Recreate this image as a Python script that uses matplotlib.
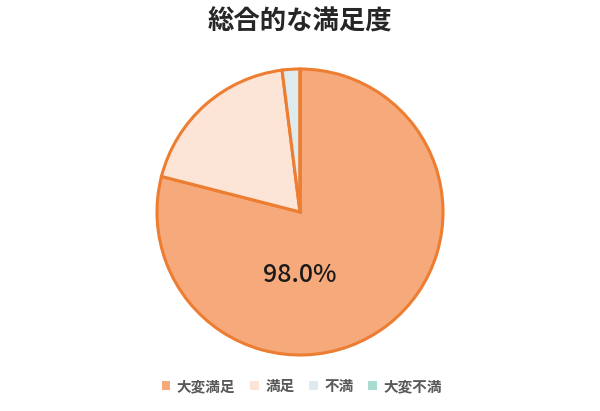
import matplotlib.pyplot as plt
from matplotlib.patches import Patch

plt.rcParams['font.family'] = ['Noto Sans CJK JP', 'DejaVu Sans']

labels = ['大変満足', '満足', '不満', '大変不満']
values = [79.0, 19.0, 2.0, 0.0]
colors = ['#F6AA7C', '#FCE4D6', '#DDEBEE', '#A9DCD0']
center_label = '98.0%'

fig = plt.figure(figsize=(6.0, 4.11), dpi=100)

# pie axes: centre at (300, 212) px from top, radius 143 px
W, H = 600, 411
ax = fig.add_axes([157 / W, 56 / H, 286 / W, 286 / H])
wedges, _ = ax.pie(values, colors=colors, startangle=90, counterclock=False,
                   radius=1.0,
                   wedgeprops=dict(edgecolor='#ED7D31', linewidth=2.2))
for w in wedges:
    w.set_clip_on(False)
ax.set_xlim(-1, 1)
ax.set_ylim(-1, 1)
ax.set_aspect('equal')

ax.text(0, -0.44, center_label, ha='center', va='center',
        fontsize=18, fontweight='medium', color='#1a1a1a')

fig.text(0.5, 1 - 22 / H, '総合的な満足度', ha='center', va='center',
         fontsize=19, fontweight='bold', color='#262626')

handles = [Patch(facecolor=c, edgecolor='none') for c in colors]
fig.legend(handles, labels, loc='center', bbox_to_anchor=(0.503, 1 - 386 / H),
           ncol=4, frameon=False, handlelength=0.6,
           handleheight=0.6, handletextpad=0.45, columnspacing=1.0,
           labelcolor='#595959', prop={'weight': 'bold', 'size': 10.5})

fig.savefig('out.png', dpi=100)
